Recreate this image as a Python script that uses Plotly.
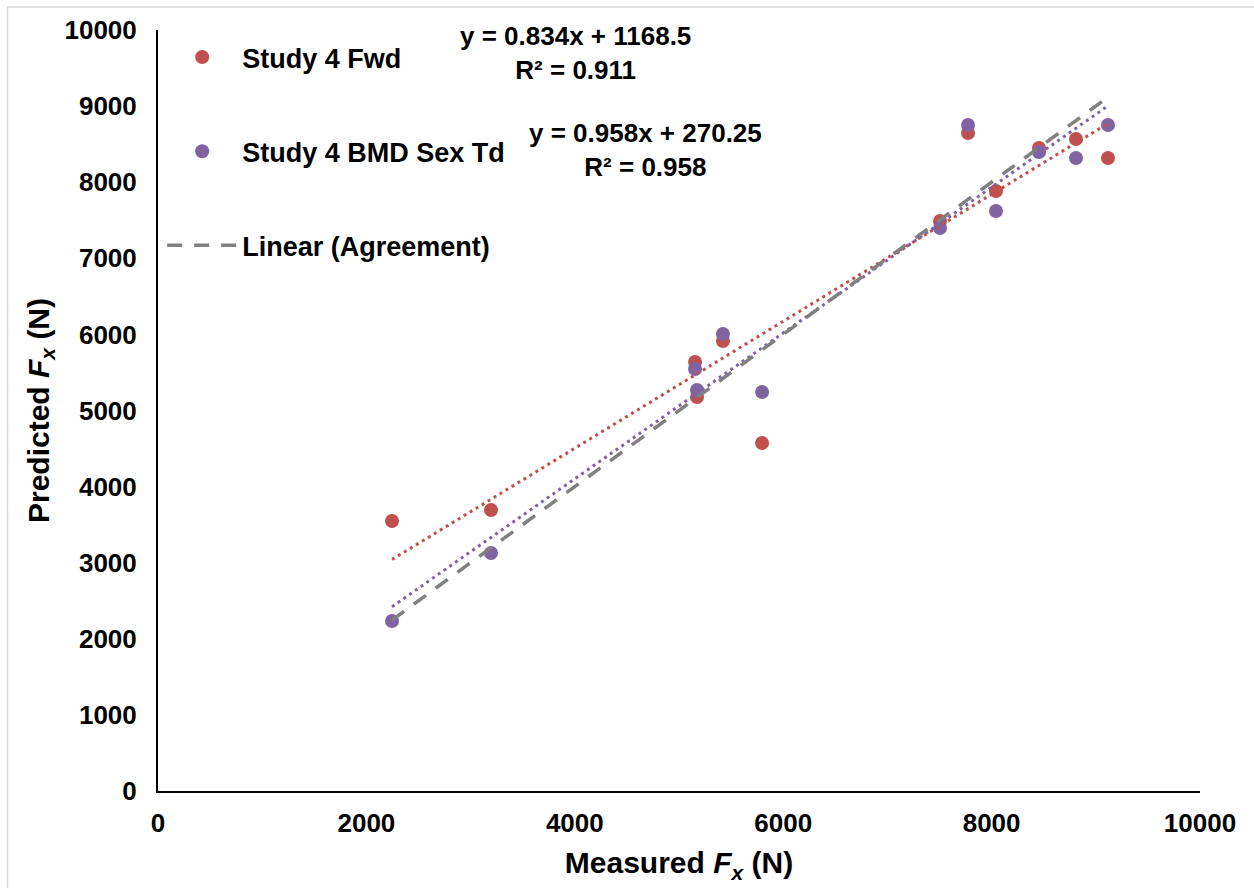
import plotly.graph_objects as go

# Measured vs predicted longitudinal force (N)
measured = [2246, 3196, 5154, 5173, 5422, 5797, 7505, 7774, 8042, 8455, 8810, 9117]
pred_fwd = [3548, 3692, 5637, 5177, 5913, 4573, 7490, 8647, 7884, 8449, 8568, 8318]
pred_bmd = [2234, 3127, 5545, 5269, 6005, 5243, 7398, 8752, 7622, 8397, 8318, 8752]

# Linear trendline coefficients (slope, intercept, R²)
fit_fwd = (0.834, 1168.5, 0.911)
fit_bmd = (0.958, 270.25, 0.958)

RED = "#C0504D"
PURPLE = "#8064A2"
GRAY = "#808080"
FONT = "Liberation Sans, Arial, sans-serif"

x_lo, x_hi = min(measured), max(measured)
trend_x = [x_lo, x_hi]

fig = go.Figure()

fig.add_trace(go.Scatter(
    x=measured, y=pred_fwd, mode="markers", name="Study 4 Fwd",
    legendgroup="a",
    marker=dict(color=RED, size=14, line=dict(width=0)),
))
fig.add_trace(go.Scatter(
    x=measured, y=pred_bmd, mode="markers", name="Study 4 BMD Sex Td",
    legendgroup="b",
    marker=dict(color=PURPLE, size=14, line=dict(width=0)),
))
fig.add_trace(go.Scatter(
    x=trend_x, y=[fit_fwd[0] * v + fit_fwd[1] for v in trend_x],
    mode="lines", showlegend=False,
    line=dict(color=RED, width=3, dash="3px,4px"),
))
fig.add_trace(go.Scatter(
    x=trend_x, y=[fit_bmd[0] * v + fit_bmd[1] for v in trend_x],
    mode="lines", showlegend=False,
    line=dict(color=PURPLE, width=3, dash="3px,4px"),
))
# Line of agreement (y = x) over the measured range
fig.add_trace(go.Scatter(
    x=trend_x, y=trend_x, mode="lines", name="Linear (Agreement)",
    legendgroup="c",
    line=dict(color=GRAY, width=3.5, dash="15px,12px"),
))


def eq_text(fit):
    return f"y = {fit[0]:.3f}x + {fit[1]:g}<br>R² = {fit[2]:.3f}"


fig.add_annotation(x=4002, y=9698, xref="x", yref="y", text=eq_text(fit_fwd),
                   showarrow=False, align="center",
                   font=dict(size=26, color="black", family=FONT, weight="bold"))
fig.add_annotation(x=4674, y=8423, xref="x", yref="y", text=eq_text(fit_bmd),
                   showarrow=False, align="center",
                   font=dict(size=26, color="black", family=FONT, weight="bold"))

# light outer frame of the chart area
fig.add_shape(type="rect", xref="paper", yref="paper",
              x0=-0.1444, x1=1.3, y0=-0.3, y1=1.0302,
              line=dict(color="#D9D9D9", width=1.5), fillcolor="rgba(0,0,0,0)",
              layer="below")

fig.update_layout(
    width=1254, height=888,
    margin=dict(l=157.5, r=54, t=30, b=97),
    paper_bgcolor="white", plot_bgcolor="white",
    font=dict(family=FONT, color="black", weight="bold", size=26),
    legend=dict(
        x=0.004, y=0.996, xanchor="left", yanchor="top",
        bgcolor="rgba(0,0,0,0)", tracegroupgap=56,
        itemwidth=70, font=dict(size=27, family=FONT, weight="bold"),
    ),
    xaxis=dict(
        range=[0, 10000], dtick=2000, tickformat="d", showgrid=False,
        zeroline=False, showline=True, linecolor="black", linewidth=2,
        ticks="", ticklabelstandoff=8,
        tickfont=dict(size=26, family=FONT, weight="bold"),
        title=dict(text="Measured <i>F</i><sub><i>x</i></sub> (N)",
                   font=dict(size=30, family=FONT, weight="bold"), standoff=15),
    ),
    yaxis=dict(
        range=[0, 10000], dtick=1000, tickformat="d", showgrid=False,
        zeroline=False, showline=True, linecolor="black", linewidth=2,
        ticks="", ticklabelstandoff=14,
        tickfont=dict(size=26, family=FONT, weight="bold"),
        title=dict(text="Predicted <i>F</i><sub><i>x</i></sub> (N)",
                   font=dict(size=30, family=FONT, weight="bold"), standoff=6),
    ),
)

fig.write_html("out.html")
